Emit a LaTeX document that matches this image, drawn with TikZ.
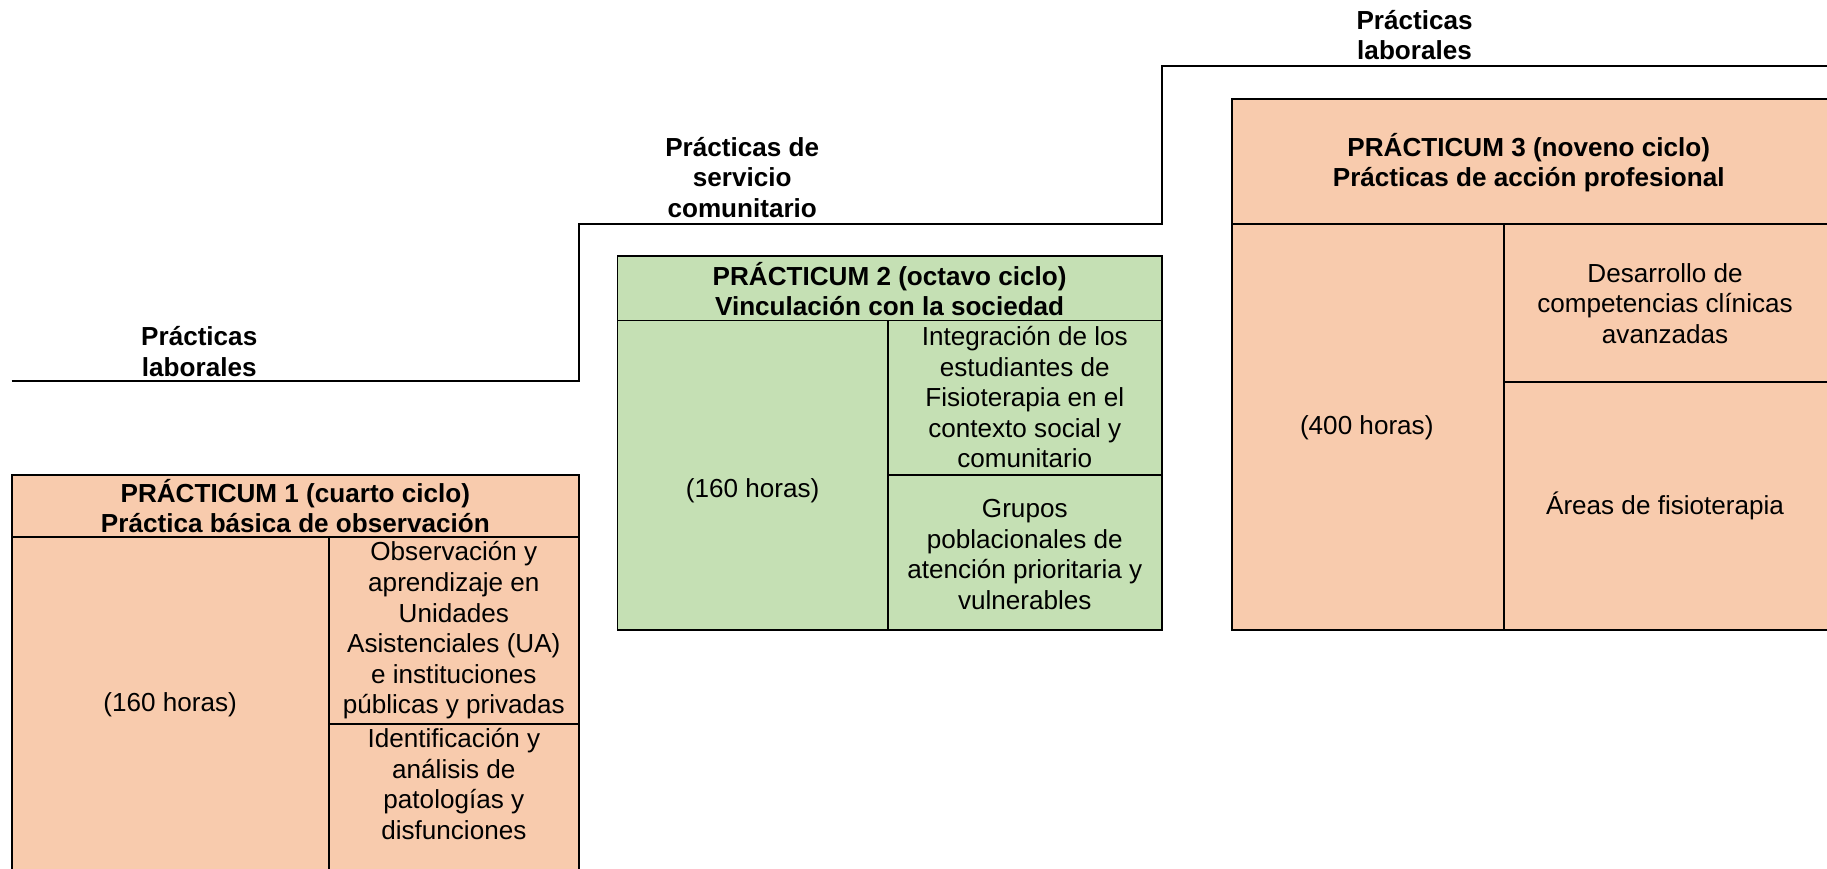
\documentclass[tikz,border=0pt]{standalone}
\usepackage{fontspec}
\setmainfont{Liberation Sans}
\usetikzlibrary{fit}
\definecolor{salmon}{HTML}{F8CBAD}
\definecolor{sage}{HTML}{C5E0B4}
\begin{document}
\begin{tikzpicture}[x=0.5pt,y=-0.5pt,
  cell/.style={draw=black, line width=0.8pt, inner sep=0pt, outer sep=0pt},
  txt/.style={align=center, inner sep=0pt, font=\fontsize{11.2}{13.1}\selectfont},
  hd/.style={align=center, inner sep=0pt, font=\fontsize{11.2}{13.1}\selectfont\bfseries},
  stair/.style={draw=black, line width=0.8pt}]
\useasboundingbox (0,0) rectangle (1568,745.8);

% staircase
\coordinate (s0) at (10,327);
\coordinate (s1) at (497,327);
\coordinate (s2) at (497,192);
\coordinate (s3) at (997,192);
\coordinate (s4) at (997,56.5);
\coordinate (s5) at (1575,56.5);
\draw[stair] (s0) -- (s1) -- (s2) -- (s3) -- (s4) -- (s5);

\node[hd] (lab1) at (171,301.5) {Prácticas\\laborales};
\node[hd] (lab2) at (637,152) {Prácticas de\\servicio\\comunitario};
\node[hd] (lab3) at (1214,30) {Prácticas\\laborales};

% Practicum 1
\node[cell, fill=salmon, fit={(10,408) (497,461)}] (h1) {};
\node[cell, fill=salmon, fit={(10,461) (282,749)}] (l1) {};
\node[cell, fill=salmon, fit={(282,461) (497,621)}] (a1) {};
\node[cell, fill=salmon, fit={(282,621) (497,749)}] (b1) {};
\node[hd] (h1t) at (253.5,434.5) {PRÁCTICUM 1 (cuarto ciclo)\\Práctica básica de observación};
\node[txt] (l1t) at (146,605) {(160 horas)};
\node[txt] (a1t) at (389.5,541) {Observación y\\aprendizaje en\\Unidades\\Asistenciales (UA)\\e instituciones\\públicas y privadas};
\node[txt] (b1t) at (389.5,673) {Identificación y\\análisis de\\patologías y\\disfunciones};

% Practicum 2
\node[cell, fill=sage, fit={(530,220) (997,275)}] (h2) {};
\node[cell, fill=sage, fit={(530,275) (762,541)}] (l2) {};
\node[cell, fill=sage, fit={(762,275) (997,408)}] (a2) {};
\node[cell, fill=sage, fit={(762,408) (997,541)}] (b2) {};
\node[hd] (h2t) at (763.5,248) {PRÁCTICUM 2 (octavo ciclo)\\Vinculación con la sociedad};
\node[txt] (l2t) at (646,421) {(160 horas)};
\node[txt] (a2t) at (879.5,341) {Integración de los\\estudiantes de\\Fisioterapia en el\\contexto social y\\comunitario};
\node[txt] (b2t) at (879.5,476) {Grupos\\poblacionales de\\atención prioritaria y\\vulnerables};

% Practicum 3
\node[cell, fill=salmon, fit={(1057,85) (1572,192)}] (h3) {};
\node[cell, fill=salmon, fit={(1057,192) (1291,541)}] (l3) {};
\node[cell, fill=salmon, fit={(1291,192) (1572,327.5)}] (a3) {};
\node[cell, fill=salmon, fit={(1291,327.5) (1572,541)}] (b3) {};
\node[hd] (h3t) at (1312,139.5) {PRÁCTICUM 3 (noveno ciclo)\\Prácticas de acción profesional};
\node[txt] (l3t) at (1173,367.5) {(400 horas)};
\node[txt] (a3t) at (1429,260.5) {Desarrollo de\\competencias clínicas\\avanzadas};
\node[txt] (b3t) at (1429,434) {Áreas de fisioterapia};
\end{tikzpicture}
\end{document}
